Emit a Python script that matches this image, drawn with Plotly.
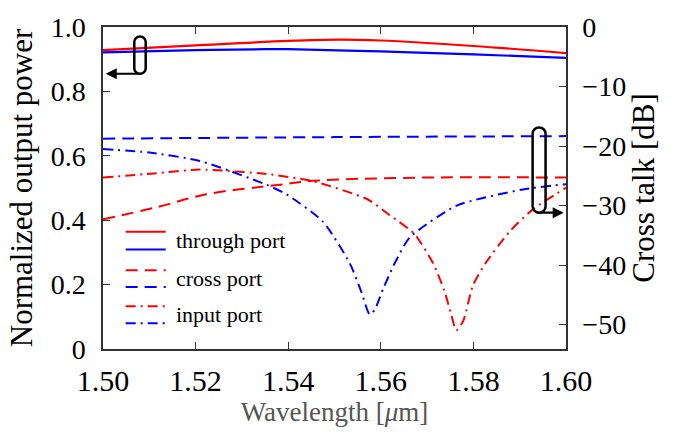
import plotly.graph_objects as go

# ---- data ----
thr_red_wl = [1.500, 1.520, 1.540, 1.551, 1.560, 1.580, 1.600]
thr_red = [0.928, 0.943, 0.957, 0.961, 0.958, 0.941, 0.919]
thr_blue_wl = [1.500, 1.520, 1.535, 1.540, 1.560, 1.580, 1.600]
thr_blue = [0.921, 0.928, 0.931, 0.931, 0.924, 0.915, 0.904]

crs_red_wl = [1.500, 1.5115, 1.5223, 1.5382, 1.5453, 1.569, 1.600]
crs_red = [-32.3, -30.3, -28.1, -26.5, -25.85, -25.3, -25.3]
crs_blue_wl = [1.500, 1.550, 1.600]
crs_blue = [-18.76, -18.5, -18.33]

inp_red_wl = [1.500, 1.511, 1.5209, 1.5353, 1.5453, 1.5570, 1.5619, 1.5673, 1.5713,
              1.5738, 1.5752, 1.5763, 1.5778, 1.5799, 1.5826, 1.5879, 1.5929, 1.600]
inp_red = [-25.3, -24.6, -23.96, -24.7, -25.9, -28.9, -31.6, -34.8, -39.7,
           -44.5, -48.3, -50.97, -49.4, -43.4, -39.7, -34.3, -30.6, -27.0]
inp_blue_wl = [1.500, 1.510, 1.5209, 1.5353, 1.5396, 1.5475, 1.5533, 1.5558, 1.5576,
               1.5587, 1.5605, 1.5630, 1.5662, 1.5764, 1.5907, 1.600]
inp_blue = [-20.5, -21.1, -22.5, -26.5, -28.1, -32.7, -39.7, -44.5, -48.3,
            -47.5, -44.0, -39.7, -35.4, -30.0, -27.3, -26.4]

x_ticks = [1.50, 1.52, 1.54, 1.56, 1.58, 1.60]
x_ticklabels = ["1.50", "1.52", "1.54", "1.56", "1.58", "1.60"]
y_ticks = [0, 0.2, 0.4, 0.6, 0.8, 1.0]
y_ticklabels = ["0", "0.2", "0.4", "0.6", "0.8", "1.0"]
y2_ticks = [0, -10, -20, -30, -40, -50]

legend_labels = ["through port", "cross port", "input port"]
legend_dash = ["solid", "12px,7px", "10px,5px,2px,5px"]

RED = "#ff0000"
BLUE = "#0000ff"
FONT = "Liberation Serif"
DASH = "12px,7px"
DASHDOT = "10px,5px,2px,5px"

fig = go.Figure()
fig.add_trace(go.Scatter(x=thr_red_wl, y=thr_red, mode="lines", line=dict(color=RED, width=2.2, shape="spline")))
fig.add_trace(go.Scatter(x=thr_blue_wl, y=thr_blue, mode="lines", line=dict(color=BLUE, width=2.2, shape="spline")))
fig.add_trace(go.Scatter(x=crs_blue_wl, y=crs_blue, yaxis="y2", mode="lines",
                         line=dict(color=BLUE, width=2, dash=DASH, shape="spline")))
fig.add_trace(go.Scatter(x=crs_red_wl, y=crs_red, yaxis="y2", mode="lines",
                         line=dict(color=RED, width=2, dash=DASH, shape="spline")))
fig.add_trace(go.Scatter(x=inp_red_wl, y=inp_red, yaxis="y2", mode="lines",
                         line=dict(color=RED, width=2, dash=DASHDOT, shape="spline", smoothing=0.6)))
fig.add_trace(go.Scatter(x=inp_blue_wl, y=inp_blue, yaxis="y2", mode="lines",
                         line=dict(color=BLUE, width=2, dash=DASHDOT, shape="spline", smoothing=0.6)))

shapes = []
annotations = []

# legend (manual: two coloured lines per entry)
leg_y = [(0.3639, 0.3091, 0.3365), (0.2449, 0.1922, 0.219), (0.1327, 0.080, 0.106)]
for (yr, yb, yt), lab, dsh in zip(leg_y, legend_labels, legend_dash):
    for yy, col in ((yr, RED), (yb, BLUE)):
        shapes.append(dict(type="line", xref="paper", yref="paper", x0=0.049, x1=0.1355, y0=yy, y1=yy,
                           line=dict(color=col, width=2, dash=dsh)))
    annotations.append(dict(xref="paper", yref="paper", x=0.1528, y=yt, text=lab, showarrow=False,
                            xanchor="left", yanchor="middle", font=dict(family=FONT, size=22, color="black")))


def capsule(x0, x1, y0, y1, ry):
    # vertical capsule in data coords (x: wavelength, y: left axis)
    xm = (x0 + x1) / 2
    rx = (x1 - x0) / 2
    k = 0.5523
    return (f"M {x0},{y1 - ry} L {x0},{y0 + ry} "
            f"C {x0},{y0 + ry - k*ry} {xm - k*rx},{y0} {xm},{y0} "
            f"C {xm + k*rx},{y0} {x1},{y0 + ry - k*ry} {x1},{y0 + ry} "
            f"L {x1},{y1 - ry} "
            f"C {x1},{y1 - ry + k*ry} {xm + k*rx},{y1} {xm},{y1} "
            f"C {xm - k*rx},{y1} {x0},{y1 - ry + k*ry} {x0},{y1 - ry} Z")


shapes.append(dict(type="path", xref="x", yref="y", path=capsule(1.50676, 1.50922, 0.8548, 0.9705, 0.0165),
                   line=dict(color="black", width=2.5)))
shapes.append(dict(type="path", xref="x", yref="y", path=capsule(1.59279, 1.59559, 0.4234, 0.6882, 0.0195),
                   line=dict(color="black", width=2.5)))

annotations.append(dict(x=1.5006, y=0.8548, ax=1.5080, ay=0.8548, xref="x", yref="y", axref="x", ayref="y",
                        text="", showarrow=True, arrowhead=2, arrowsize=1, arrowwidth=2.2, arrowcolor="black"))
annotations.append(dict(x=1.5995, y=0.4234, ax=1.5941, ay=0.4234, xref="x", yref="y", axref="x", ayref="y",
                        text="", showarrow=True, arrowhead=2, arrowsize=1, arrowwidth=2.2, arrowcolor="black"))

fig.update_layout(
    width=689, height=434,
    margin=dict(l=103, r=123, t=13, b=84),
    paper_bgcolor="white", plot_bgcolor="white",
    showlegend=False,
    shapes=shapes, annotations=annotations,
    font=dict(family=FONT, color="black"),
    xaxis=dict(range=[1.50, 1.60], tickvals=x_ticks, ticktext=x_ticklabels,
               ticks="inside", ticklen=7, tickwidth=1, tickcolor="#333",
               showline=True, linecolor="#333", linewidth=1.5, mirror="ticks",
               showgrid=False, zeroline=False, ticklabelstandoff=4,
               ticklabeloverflow="allow",
               tickfont=dict(family=FONT, size=30, color="black"),
               title=dict(text="Wavelength [<i>μ</i>m]", standoff=6,
                          font=dict(family=FONT, size=27, color="#555"))),
    yaxis=dict(range=[0, 1.0], tickvals=y_ticks, ticktext=y_ticklabels,
               ticks="inside", ticklen=7, tickwidth=1, tickcolor="#333",
               showline=True, linecolor="#333", linewidth=1.5,
               showgrid=False, zeroline=False, ticklabelstandoff=10,
               ticklabeloverflow="allow",
               tickfont=dict(family=FONT, size=28, color="black"),
               title=dict(text="Normalized output power", standoff=9,
                          font=dict(family=FONT, size=31, color="black"))),
    yaxis2=dict(range=[-54.1, 0], tickvals=y2_ticks, overlaying="y", side="right",
                ticks="inside", ticklen=7, tickwidth=1, tickcolor="#333",
                showline=True, linecolor="#333", linewidth=1.5,
                showgrid=False, zeroline=False, ticklabelstandoff=9,
                ticklabeloverflow="allow",
                tickfont=dict(family=FONT, size=28, color="black"),
                title=dict(text="Cross talk [dB]", standoff=6,
                           font=dict(family=FONT, size=31, color="black"))),
)

fig.write_html("out.html")
